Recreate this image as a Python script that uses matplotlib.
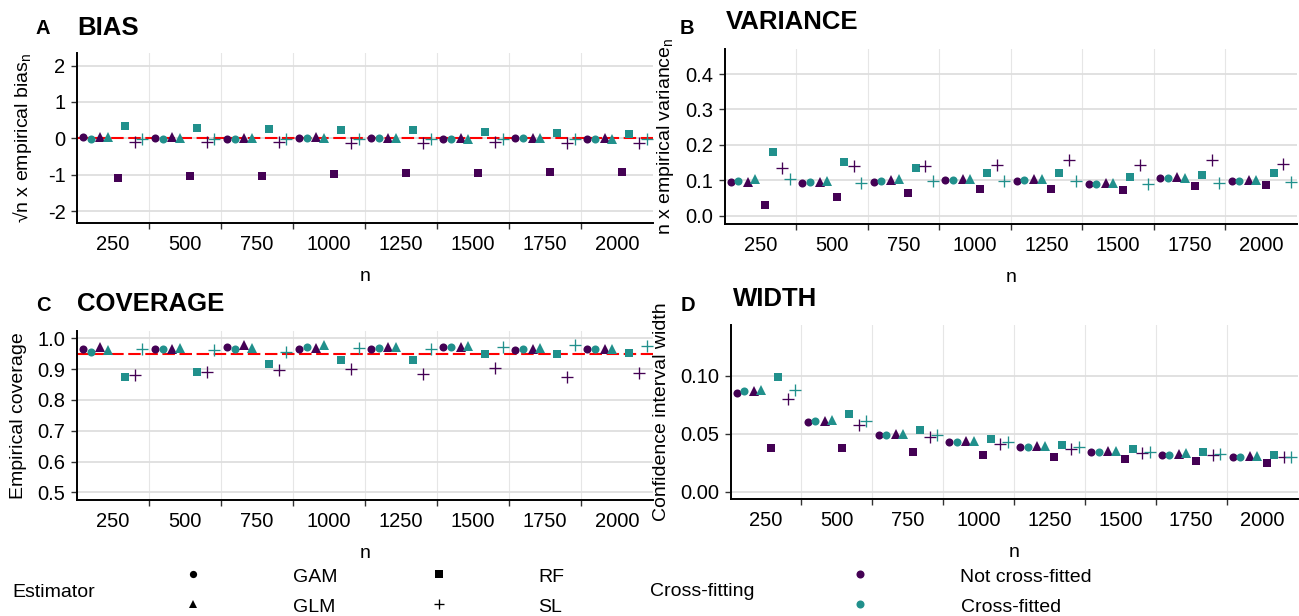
import numpy as np
import matplotlib
matplotlib.use("Agg")
import matplotlib.pyplot as plt
from matplotlib.lines import Line2D

plt.rcParams['font.family'] = ['Liberation Sans', 'DejaVu Sans']
plt.rcParams['mathtext.default'] = 'regular'
plt.rcParams['axes.unicode_minus'] = False

n_labels = ["250", "500", "750", "1000", "1250", "1500", "1750", "2000"]
estimators = ["GAM", "GLM", "RF", "SL"]
crossfit_labels = ["Not cross-fitted", "Cross-fitted"]

# each series: [not cross-fitted, cross-fitted]
bias_gam = [[0.03, 0.02, -0.01, 0.02, 0.01, -0.01, 0.01, -0.01],
            [-0.01, -0.01, -0.03, 0.00, 0.00, -0.03, 0.00, -0.03]]
bias_glm = [[0.05, 0.03, 0.01, 0.03, 0.02, 0.00, 0.02, 0.00],
            [0.03, 0.02, 0.00, 0.02, 0.01, -0.01, 0.01, -0.01]]
bias_rf = [[-1.09, -1.05, -1.03, -0.98, -0.95, -0.95, -0.92, -0.92],
           [0.34, 0.29, 0.25, 0.24, 0.22, 0.17, 0.16, 0.12]]
bias_sl = [[-0.10, -0.10, -0.11, -0.12, -0.13, -0.10, -0.14, -0.12],
           [-0.02, -0.01, -0.02, -0.02, -0.02, -0.02, -0.02, -0.02]]

var_gam = [[0.094, 0.093, 0.096, 0.100, 0.099, 0.090, 0.105, 0.098],
           [0.099, 0.095, 0.099, 0.100, 0.100, 0.090, 0.105, 0.099]]
var_glm = [[0.096, 0.094, 0.100, 0.104, 0.103, 0.092, 0.108, 0.100],
           [0.102, 0.098, 0.102, 0.103, 0.102, 0.093, 0.107, 0.100]]
var_rf = [[0.029, 0.052, 0.063, 0.075, 0.075, 0.072, 0.083, 0.087],
          [0.179, 0.151, 0.133, 0.120, 0.121, 0.108, 0.114, 0.121]]
var_sl = [[0.134, 0.141, 0.139, 0.143, 0.158, 0.144, 0.158, 0.147],
          [0.102, 0.092, 0.099, 0.099, 0.099, 0.088, 0.093, 0.095]]

# RF not cross-fitted coverage falls below the plotted range
cov_gam = [[0.965, 0.965, 0.973, 0.966, 0.966, 0.972, 0.963, 0.966],
           [0.955, 0.964, 0.965, 0.972, 0.968, 0.972, 0.967, 0.964]]
cov_glm = [[0.971, 0.967, 0.977, 0.968, 0.971, 0.973, 0.966, 0.967],
           [0.962, 0.969, 0.968, 0.977, 0.973, 0.974, 0.969, 0.967]]
cov_rf = [[np.nan] * 8,
          [0.875, 0.891, 0.916, 0.931, 0.929, 0.949, 0.949, 0.952]]
cov_sl = [[0.881, 0.891, 0.898, 0.901, 0.883, 0.905, 0.876, 0.889],
          [0.966, 0.963, 0.957, 0.968, 0.967, 0.973, 0.977, 0.975]]

width_gam = [[0.0848, 0.0601, 0.0486, 0.0425, 0.0382, 0.0345, 0.0319, 0.0299],
             [0.0871, 0.0606, 0.0491, 0.0425, 0.0382, 0.0345, 0.0319, 0.0299]]
width_glm = [[0.0865, 0.0609, 0.0497, 0.0434, 0.0391, 0.0353, 0.0328, 0.0307],
             [0.0879, 0.0615, 0.0500, 0.0437, 0.0394, 0.0353, 0.0330, 0.0307]]
width_rf = [[0.0379, 0.0374, 0.0342, 0.0319, 0.0299, 0.0279, 0.0264, 0.0250],
            [0.0989, 0.0667, 0.0529, 0.0451, 0.0402, 0.0365, 0.0339, 0.0313]]
width_sl = [[0.0799, 0.0572, 0.0474, 0.0408, 0.0365, 0.0330, 0.0316, 0.0296],
            [0.0874, 0.0606, 0.0491, 0.0428, 0.0388, 0.0345, 0.0328, 0.0302]]

COLS = ["#440154", "#21908C"]
MARK = {"GAM": ("o", 5.8), "GLM": ("^", 6.9), "RF": ("s", 5.9), "SL": ("+", 8.6)}
EST_OFF = [-0.36, -0.12, 0.12, 0.36]
CF_OFF = [-0.052, 0.052]

W, H = 1299, 616
fig = plt.figure(figsize=(W / 100, H / 100), dpi=100)


def fx(px):
    return px / W


def fy(py):
    return 1 - py / H


def panel(box, series, ylim, yticks, fmt, ylabel, ylab_x, ref=None):
    left, top, right, bottom = box
    ax = fig.add_axes([fx(left), fy(bottom), (right - left) / W, (bottom - top) / H])
    x = np.arange(1, 9)
    if ref is not None:
        ax.axhline(ref, color="red", lw=1.5, ls=(0, (6, 2.2)), zorder=2)
    for i, est in enumerate(estimators):
        m, ms = MARK[est]
        for j in range(2):
            kw = dict(mew=0.95) if m == "+" else dict(mew=0)
            ax.plot(x + EST_OFF[i] + CF_OFF[j], series[est][j], ls="none",
                    marker=m, ms=ms, color=COLS[j], zorder=3, **kw)
    ax.set_xlim(0.5, 8.5)
    ax.set_ylim(*ylim)
    ax.set_xticks(x)
    ax.set_xticklabels(n_labels)
    ax.set_xticks(np.arange(1.5, 8.5, 1), minor=True)
    ax.tick_params(axis="x", which="major", length=0, pad=8.5, labelsize=14.5)
    ax.tick_params(axis="x", which="minor", length=4, width=1, color="#333333")
    ax.set_yticks(yticks)
    ax.set_yticklabels([fmt.format(v) for v in yticks])
    ax.tick_params(axis="y", length=4, width=1, color="#333333", pad=4, labelsize=14.5)
    ax.grid(axis="y", which="major", color="#dedede", lw=1.3)
    ax.grid(axis="x", which="minor", color="#e6e6e6", lw=0.8)
    ax.set_axisbelow(True)
    for s in ("top", "right"):
        ax.spines[s].set_visible(False)
    for s in ("left", "bottom"):
        ax.spines[s].set_linewidth(1.4)
    fig.text(fx(ylab_x), fy((top + bottom) / 2), ylabel, rotation=90,
             ha="center", va="center", fontsize=14)
    fig.text(fx((left + right) / 2), fy(bottom + 58), "n", ha="center",
             va="baseline", fontsize=14)
    return ax


panel((76.7, 53.3, 653, 223),
      {"GAM": bias_gam, "GLM": bias_glm, "RF": bias_rf, "SL": bias_sl},
      (-2.33, 2.34), [-2, -1, 0, 1, 2], "{:.0f}",
      "√n x empirical bias$_{n}$", 23, ref=0)
panel((724.5, 49.3, 1297, 224),
      {"GAM": var_gam, "GLM": var_glm, "RF": var_rf, "SL": var_sl},
      (-0.024, 0.47), [0.0, 0.1, 0.2, 0.3, 0.4], "{:.1f}",
      "n x empirical variance$_{n}$", 665)
panel((76.7, 330.7, 653, 500),
      {"GAM": cov_gam, "GLM": cov_glm, "RF": cov_rf, "SL": cov_sl},
      (0.475, 1.025), [0.5, 0.6, 0.7, 0.8, 0.9, 1.0], "{:.1f}",
      "Empirical coverage", 19, ref=0.95)
panel((730.6, 325, 1297.5, 499.3),
      {"GAM": width_gam, "GLM": width_glm, "RF": width_rf, "SL": width_sl},
      (-0.0066, 0.1437), [0.0, 0.05, 0.10], "{:.2f}",
      "Confidence interval width", 662)

# titles and panel letters
for txt, x, y, size in [("BIAS", 77.3, 35, 18.5), ("VARIANCE", 726, 29.3, 18.5),
                        ("COVERAGE", 77.5, 311, 18.5), ("WIDTH", 733, 306, 18.5),
                        ("A", 36, 34.3, 14.5), ("B", 680, 34.3, 14.5),
                        ("C", 36.5, 311, 14.5), ("D", 681, 311, 14.5)]:
    fig.text(fx(x), fy(y), txt, fontsize=size, fontweight="bold", va="baseline")

# legend
fig.text(fx(12), fy(596.7), "Estimator", fontsize=14, va="baseline")
fig.text(fx(650), fy(596.5), "Cross-fitting", fontsize=14, va="baseline")
key_pos = {"GAM": (193, 574), "GLM": (193, 604), "RF": (439, 574), "SL": (439, 604)}
for est in estimators:
    m, ms = MARK[est]
    kx, ky = key_pos[est]
    fig.add_artist(Line2D([fx(kx)], [fy(ky)], transform=fig.transFigure, ls="none",
                          marker=m, ms=ms * 0.9, color="black",
                          mew=0.95 if m == "+" else 0))
    fig.text(fx(kx + 99.5), fy(ky + 7.7), est, fontsize=14, va="baseline")
for j, lab in enumerate(crossfit_labels):
    ky = 574 + 30 * j
    fig.add_artist(Line2D([fx(860)], [fy(ky)], transform=fig.transFigure, ls="none",
                          marker="o", ms=5.8, color=COLS[j], mew=0))
    fig.text(fx(960.5), fy(ky + 7.7), lab, fontsize=14, va="baseline")

fig.savefig("out.png", dpi=100)
